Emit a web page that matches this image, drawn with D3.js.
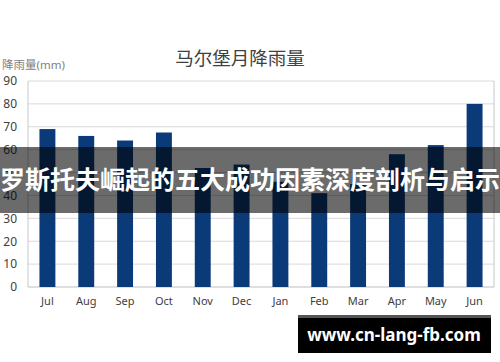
<!DOCTYPE html>
<html>
<head>
<meta charset="utf-8">
<script src="https://cdn.jsdelivr.net/npm/d3@7"></script>
<style>
  body { margin: 0; background: #fff; }
  svg text { font-family: "Noto Sans", "Noto Sans CJK SC", sans-serif; }
</style>
</head>
<body>
<div id="chart"></div>
<script>
const months = ["Jul", "Aug", "Sep", "Oct", "Nov", "Dec", "Jan", "Feb", "Mar", "Apr", "May", "Jun"];
const rainfall = [69, 66, 64, 67.5, 52, 53.5, 46, 41, 45, 58, 62, 80];
const yTicks = [0, 10, 20, 30, 40, 50, 60, 70, 80, 90];

const width = 500;
const height = 362;
const margin = {top: 81, left: 28, right: 6, bottom: 75};

const svg = d3.select("#chart")
  .append("svg")
  .attr("width", width)
  .attr("height", height);

/* scales */
const xScale = d3.scaleBand()
  .domain(months)
  .range([margin.left, width - margin.right])
  .paddingInner(0.59)
  .paddingOuter(0.295);

const yScale = d3.scaleLinear()
  .domain([0, 90])
  .range([height - margin.bottom, margin.top]);

/* gridlines */
svg.append("g")
  .selectAll("line")
  .data(yTicks)
  .enter()
  .append("line")
  .attr("x1", margin.left)
  .attr("x2", width - margin.right)
  .attr("y1", d => yScale(d))
  .attr("y2", d => yScale(d))
  .attr("stroke", d => d === 0 ? "#bfbfbf" : "#d9d9d9")
  .attr("stroke-width", 1);

// side borders
[margin.left, width - margin.right].forEach(x => {
  svg.append("line")
    .attr("x1", x).attr("x2", x)
    .attr("y1", yScale(90)).attr("y2", yScale(0))
    .attr("stroke", "#c8c8c8");
});

/* bars */
svg.selectAll("rect.bar")
  .data(rainfall)
  .enter()
  .append("rect")
  .attr("class", "bar")
  .attr("x", (d, i) => xScale(months[i]))
  .attr("y", d => yScale(d))
  .attr("width", xScale.bandwidth())
  .attr("height", d => yScale(0) - yScale(d))
  .attr("fill", "#0b3a78");

/* axes */
const yAxis = svg.append("g")
  .attr("transform", `translate(${margin.left},0)`)
  .call(d3.axisLeft(yScale).tickValues(yTicks).tickSize(0).tickPadding(11));
yAxis.select(".domain").remove();
yAxis.selectAll("text")
  .attr("font-size", 12)
  .attr("fill", "#404040");

const xAxis = svg.append("g")
  .attr("transform", `translate(0,${yScale(0)})`)
  .call(d3.axisBottom(xScale).tickSize(0).tickPadding(10));
xAxis.select(".domain").remove();
xAxis.selectAll("text")
  .attr("font-size", 11)
  .attr("fill", "#404040");

/* titles */
svg.append("text")
  .attr("x", 240)
  .attr("y", 65)
  .attr("text-anchor", "middle")
  .attr("font-size", 18.5)
  .attr("fill", "#404040")
  .text("马尔堡月降雨量");

svg.append("text")
  .attr("x", 2)
  .attr("y", 69)
  .attr("font-size", 11.5)
  .attr("fill", "#7f7f7f")
  .text("降雨量(mm)");

/* overlay banner */
svg.append("rect")
  .attr("x", 0)
  .attr("y", 147)
  .attr("width", width)
  .attr("height", 66)
  .attr("fill", "#000")
  .attr("opacity", 0.58);

svg.append("text")
  .attr("x", width / 2)
  .attr("y", 189)
  .attr("text-anchor", "middle")
  .attr("font-size", 25)
  .attr("font-weight", "bold")
  .attr("fill", "#fff")
  .style("font-family", "'Noto Sans CJK SC', sans-serif")
  .text("罗斯托夫崛起的五大成功因素深度剖析与启示");

/* watermark */
svg.append("rect")
  .attr("x", 298)
  .attr("y", 315)
  .attr("width", 193)
  .attr("height", 38)
  .attr("fill", "#000");
svg.append("rect")
  .attr("x", 298)
  .attr("y", 315)
  .attr("width", 193)
  .attr("height", 3)
  .attr("fill", "#555");

svg.append("text")
  .attr("x", 394)
  .attr("y", 341)
  .attr("text-anchor", "middle")
  .attr("font-size", 17)
  .attr("font-weight", "bold")
  .attr("fill", "#fff")
  .text("www.cn-lang-fb.com");
</script>
</body>
</html>
